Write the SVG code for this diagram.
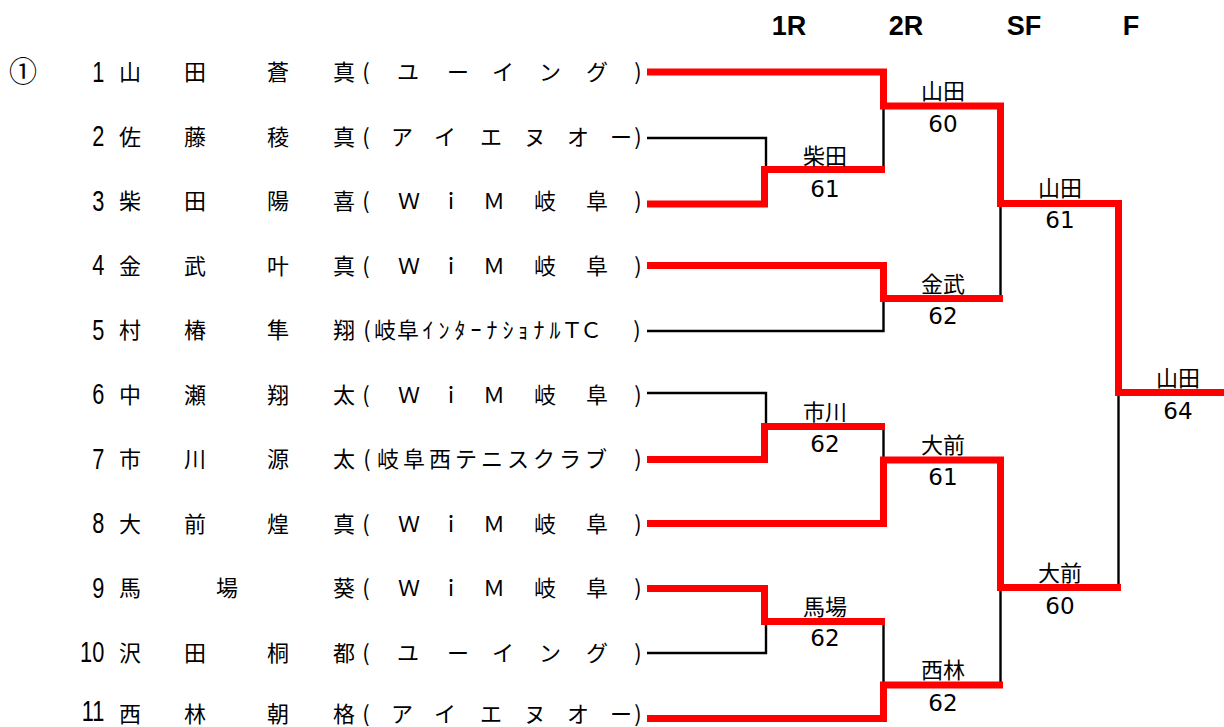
<svg xmlns="http://www.w3.org/2000/svg" width="1224" height="727" viewBox="0 0 1224 727">
<defs>
<style>
.t{font-family:"Noto Sans CJK JP","Noto Sans CJK SC",sans-serif;font-size:22px;fill:#000;text-anchor:middle}
.n{font-family:"Liberation Sans",Arial,sans-serif;font-size:29px;fill:#000;text-anchor:end}
.lb{font-family:"Noto Sans CJK JP",sans-serif;font-size:22px;fill:#000;text-anchor:middle}
.sc{font-family:"DejaVu Sans",sans-serif;font-size:23px;fill:#000;text-anchor:middle}
.h{font-family:"Liberation Sans",Arial,sans-serif;font-size:27px;font-weight:bold;fill:#000;text-anchor:middle}
.red{fill:none;stroke:#FF0000;stroke-width:7;stroke-linejoin:miter;stroke-linecap:butt}
.blk{fill:none;stroke:#000;stroke-width:2.4;stroke-linecap:butt}
</style>
</defs>
<rect width="1224" height="727" fill="#fff"/>
<g id="headers">
<text class="h" x="789" y="35">1R</text>
<text class="h" x="906" y="35">2R</text>
<text class="h" x="1024" y="35">SF</text>
<text class="h" x="1131" y="35">F</text>
</g>
<text class="t" x="23" y="82" style="font-size:28px">①</text>
<g id="numbers" transform="scale(0.75,1)">
<text class="n" x="139" y="82">1</text>
<text class="n" x="139" y="146.5">2</text>
<text class="n" x="139" y="211">3</text>
<text class="n" x="139" y="275.5">4</text>
<text class="n" x="139" y="340">5</text>
<text class="n" x="139" y="404.5">6</text>
<text class="n" x="139" y="469">7</text>
<text class="n" x="139" y="533.5">8</text>
<text class="n" x="139" y="598">9</text>
<text class="n" x="139" y="662.5">10</text>
<text class="n" x="139" y="721">11</text>
</g>
<g id="p1"><text class="t" x="130 195 278 344" y="80">山田蒼真</text><text class="t" x="366 408 458 503 550 597 638" y="80">(ユーイング)</text></g>
<g id="p2"><text class="t" x="130 195 278 344" y="144.5">佐藤稜真</text><text class="t" x="366 402 445 491 535 578 621 638" y="144.5">(アイエヌオー)</text></g>
<g id="p3"><text class="t" x="130 195 278 344" y="209">柴田陽喜</text><text class="t" x="366 409 451 494 545 597 638" y="209">(ＷｉＭ岐阜)</text></g>
<g id="p4"><text class="t" x="130 195 278 344" y="273.5">金武叶真</text><text class="t" x="366 409 451 494 545 597 638" y="273.5">(ＷｉＭ岐阜)</text></g>
<g id="p5"><text class="t" x="130 195 278 344" y="338">村椿隼翔</text><text class="t" x="367 385 408 428 444 460 476 492 508 523 539 555 572 591 637" y="338">(岐阜ｲﾝﾀｰﾅｼｮﾅﾙＴＣ)</text></g>
<g id="p6"><text class="t" x="130 195 278 344" y="402.5">中瀬翔太</text><text class="t" x="366 409 451 494 545 597 638" y="402.5">(ＷｉＭ岐阜)</text></g>
<g id="p7"><text class="t" x="130 195 278 344" y="467">市川源太</text><text class="t" x="367 388 414 440 466 492 518 544 570 596 638" y="467">(岐阜西テニスクラブ)</text></g>
<g id="p8"><text class="t" x="130 195 278 344" y="531.5">大前煌真</text><text class="t" x="366 409 451 494 545 597 638" y="531.5">(ＷｉＭ岐阜)</text></g>
<g id="p9"><text class="t" x="130 227 344" y="596">馬場葵</text><text class="t" x="366 409 451 494 545 597 638" y="596">(ＷｉＭ岐阜)</text></g>
<g id="p10"><text class="t" x="130 195 278 344" y="660.5">沢田桐都</text><text class="t" x="366 408 458 503 550 597 638" y="660.5">(ユーイング)</text></g>
<g id="p11"><text class="t" x="130 195 278 344" y="722">西林朝格</text><text class="t" x="366 402 445 491 535 578 621 638" y="722">(アイエヌオー)</text></g>
<g id="connectors">
<path class="blk" d="M647,138 H766 V166"/>
<path class="blk" d="M883.5,109 V166"/>
<path class="blk" d="M1000.5,207 V295"/>
<path class="blk" d="M647,331 H883.5 V302"/>
<path class="blk" d="M1118.5,396 V584"/>
<path class="blk" d="M647,393 H766 V423"/>
<path class="blk" d="M883.5,430 V457"/>
<path class="blk" d="M647,653 H766 V625"/>
<path class="blk" d="M883.5,625 V682"/>
<path class="blk" d="M1000.5,591 V682"/>
<path class="red" d="M647,72 H883.5 V106 H1000.5 V203.5 H1118.5 V392.5 H1224"/>
<path class="red" d="M647,204 H764.5 V169.5 H885"/>
<path class="red" d="M647,265.5 H883.5 V298.5 H1003"/>
<path class="red" d="M647,459.5 H764.5 V426.5 H885"/>
<path class="red" d="M647,523.5 H883.5 V460 H1000.5 V587.5 H1121"/>
<path class="red" d="M647,588.5 H764.5 V621.5 H885"/>
<path class="red" d="M647,718.5 H883.5 V685 H1003"/>
</g>
<g id="m-r1a"><text class="lb" x="825" y="164">柴田</text><text class="sc" x="825" y="197">61</text></g>
<g id="m-r2a"><text class="lb" x="943" y="99">山田</text><text class="sc" x="943" y="132">60</text></g>
<g id="m-r2b"><text class="lb" x="943" y="292">金武</text><text class="sc" x="943" y="324">62</text></g>
<g id="m-sf1"><text class="lb" x="1060" y="196">山田</text><text class="sc" x="1060" y="228">61</text></g>
<g id="m-f"><text class="lb" x="1178" y="386">山田</text><text class="sc" x="1178" y="419">64</text></g>
<g id="m-r1b"><text class="lb" x="825" y="420">市川</text><text class="sc" x="825" y="452">62</text></g>
<g id="m-r2c"><text class="lb" x="943" y="453">大前</text><text class="sc" x="943" y="485">61</text></g>
<g id="m-sf2"><text class="lb" x="1060" y="581">大前</text><text class="sc" x="1060" y="614">60</text></g>
<g id="m-r1c"><text class="lb" x="825" y="615">馬場</text><text class="sc" x="825" y="646">62</text></g>
<g id="m-r2d"><text class="lb" x="943" y="678">西林</text><text class="sc" x="943" y="711">62</text></g>
</svg>
